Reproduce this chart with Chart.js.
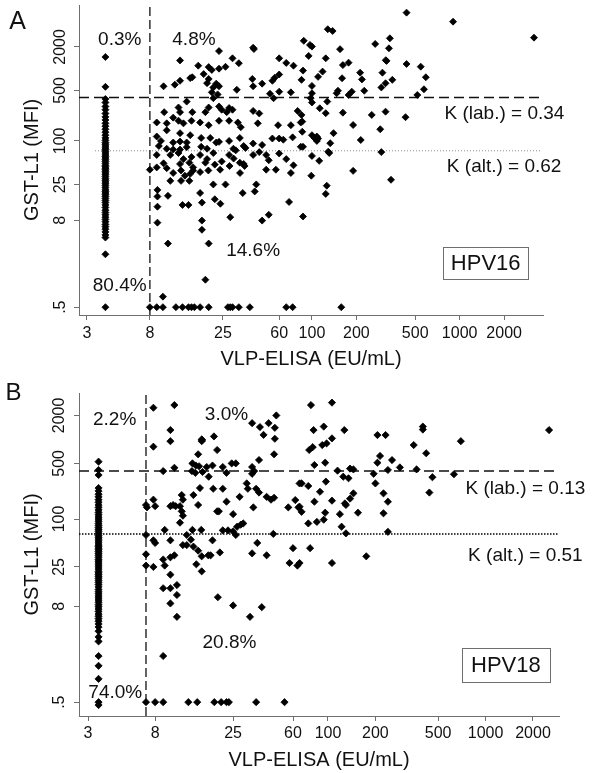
<!DOCTYPE html>
<html lang="en">
<head>
<meta charset="utf-8" />
<title>GST-L1 vs VLP-ELISA</title>
<script src="https://cdn.jsdelivr.net/npm/chart.js@4/dist/chart.umd.min.js"></script>
<style>
  body { margin: 0; background: #fff; }
  canvas { display: block; }
</style>
</head>
<body>
<canvas id="chartA" width="600" height="380"></canvas>
<canvas id="chartB" width="600" height="393"></canvas>
<script>
// tick values, same on both panels
const xTicks = [3, 8, 25, 60, 100, 200, 500, 1000, 2000];
const yTicks = [0.5, 8, 25, 100, 500, 2000];

// ---- HPV16 ----
// ELISA-negative sera all sit in one column
const hpv16NegX = 4;
const hpv16NegY = [1450, 560, 380, 340, 300, 270, 240, 215, 195, 175, 160, 145, 132, 120, 110, 102, 95, 90, 85, 80,
  76, 72, 68, 64, 61, 58, 55, 52, 49, 46, 44, 42, 40, 38, 36, 34, 32, 30, 28.5, 27, 25.5, 24, 22.5, 21, 20, 19,
  18, 17, 16, 15, 14, 13, 12, 11, 10.2, 9.5, 8.8, 8.2, 7.6, 7, 6.5, 6, 5.5, 5, 4.6, 2.7, 0.5];
// [ELISA EU/mL, GST-L1 MFI]
const hpv16Pos = [
  [23.5,1750],[40,1950],[40.5,1870],[12.8,1300],[29,1390],[32,1190],[60,1390],[67,1200],[75,1100],
  [17,1100],[20,1050],[21,960],[23.5,1000],[26,1060],[15.5,760],[18.5,840],[20,720],[22.5,620],[23.5,570],
  [9.9,570],[11.8,600],[12.8,680],[15,740],[39.5,720],[40,570],[46,620],[54,680],[60,830],[56,750],
  [19.5,630],[21.5,550],[21,470],[23,440],[31,510],[21.5,390],[52,450],[60,480],[72,470],[55,390],
  [14.2,350],[23.5,300],[24.5,270],[27.5,285],[29,270],[20,290],[26.5,250],[12.5,290],[12.8,250],[15.5,250],
  [19,250],[40,260],[44,240],[80,260],[10,250],
  [8.9,180],[10.4,175],[11.5,210],[12.5,190],[13.5,175],[15.3,190],[17.5,180],[20,165],[23.5,190],[27.5,190],
  [31.5,180],[33,155],[43,175],[59,165],[72,165],[12.8,128],[15,120],[10.4,140],
  [8.9,115],[9.5,100],[11.5,95],[12.8,98],[14.2,95],[17.8,110],[20.5,110],[22.5,95],[23.5,97],[27.5,100],
  [32.5,110],[34.5,85],[40,92],[46,88],[54,108],[60,108],[64,104],[74,112],[17.8,83],[19.5,78],[11.5,76],
  [12.8,76],[14.2,82],[9.2,85],[10.4,78],[29.4,78],[30.5,74],[35.5,80],
  [8.9,64],[9.9,49],[11,64],[12.5,68],[13.5,56],[15.3,60],[17.5,64],[19.5,56],[21.5,68],[27.5,64],[29.5,57],
  [32.5,50],[35,45],[40,64],[44,70],[49,64],[51,54],[60,67],[67,56],[75,46],[12.8,48],[14.8,50],[15.7,43],
  [19,50],[22,47],[24.5,52],
  [8,40],[8.9,43],[10.4,42],[11.5,36],[13,39],[13.8,33],[15,35],[15.7,39],[17.5,37],[19.9,39],[23.9,40],
  [27.7,45],[32.6,36],[34.5,48],[49,40],[57,40],[72,36],[11,28],[13,28],[14.8,28],[21.5,25],[26,25],[42,25],
  [9,21],[9,17],[9,12.3],[9,7.4],[10.6,17.4],[13.3,13],[14.6,13],[17.5,19],[18,14],[22,15.6],[24,13.5],
  [34,19],[41,20],[70,14.3],[28,8.8],[46,7.9],[51,9.5],[18,7.9],[18,5.9],[10.6,3.8],[20,3.8],[19,1.2],[9.8,0.7],
  [437,5960],[902,4470],[3185,2685],[128,3510],[138,3320],[88,2430],[97,2130],[100,2020],[95,1500],[155,1860],
  [124,1390],[268,2200],[337,2630],[332,1910],[316,1310],[320,1280],[437,1160],[545,1065],[590,760],[573,518],
  [517,432],[162,1120],[177,1210],[118,910],[110,770],[87,940],[85,700],[160,736],[212,880],[218,710],
  [300,880],[295,550],[315,628],[350,700],[226,495],[186,480],[177,432],[147,457],[150,495],[100,577],
  [100,457],[98,390],[100,340],[127,350],[113,283],[124,242],[85,229],[86,185],[162,246],[254,229],
  [315,254],[430,213],[190,166],[290,145],[84,180],[86,134],[100,120],[104,110],[108,115],[110,108],
  [108,100],[140,128],[133,93],[129,71],[131,68],[214,103],[84,83],[87,83],[100,62],[112,53],[295,70],
  [99,33],[190,38.5],[126,24],[343,29],[124,18.5],[87,9],[158,0.5],
  [8,0.5],[8.9,0.5],[9.8,0.5],[12,0.5],[13.3,0.5],[14.6,0.5],[15.3,0.5],[16,0.5],[17.5,0.5],[20,0.5],
  [27,0.5],[28,0.5],[29,0.5],[32,0.5],[38,0.5],[67,0.5],[74,0.5]
];
const hpv16Cuts = [8, 400, 73]; // ELISA cut-off, lab. cut-off, alt. cut-off
const hpv16Pct = ['0.3%', '4.8%', '14.6%', '80.4%'];
const hpv16Kappa = ['K (lab.) = 0.34', 'K (alt.) = 0.62'];

// ---- HPV18 ----
const hpv18NegX = 3.5;
const hpv18NegY = [525, 413, 357, 245, 225, 205, 190, 175, 162, 150, 140, 130, 121, 113, 106, 100, 94, 88, 83, 78,
  74, 70, 66, 62, 59, 56, 53, 50, 47, 45, 43, 41, 39, 37, 35, 33, 31, 29.5, 28, 26.5, 25, 23.5, 22, 21, 20, 19,
  18, 17, 16, 15, 14, 13, 12.2, 11.5, 10.8, 10.2, 9.6, 9, 8.4, 7.9, 7.4, 6.9, 6.4, 6, 5.6, 5.2, 4.8, 4.4, 3.9,
  3.3, 2.9, 1.9, 1.43, 0.98, 0.5, 0.46];
const hpv18Pos = [
  [7.8,2500],[10.6,2700],[7.8,810],[10,1312],[10,950],[10.6,440],[9,400],[15.8,1000],[15.9,980],[15.8,950],
  [18.9,1090],[19.8,736],[15,650],[13.8,500],[14.5,470],[15.2,460],[17,450],[21.5,450],[24.5,500],[26,500],
  [33,1600],[37,1430],[42,1600],[46,1400],[46,1020],[47,2000],[39,1140],[45.5,650],[36.5,551],[33,450],
  [34,400],[33,370],[13.7,400],[14.4,380],[16,390],[17.5,340],[18.5,470],[22.7,380],[30.5,280],[31,240],
  [35,240],[36.5,215],[33.6,140],[40.8,190],[43.5,175],[45.5,185],[18.7,240],[21.5,240],[15.4,245],[14,200],
  [11.8,200],[12,175],[11.5,145],[10.4,150],[10.8,145],[11.8,125],[12,110],[11.5,90],[7.8,175],[8,145],
  [7,150],[7.1,140],[10,145],[15,150],[22.7,165],[27.5,190],[19.8,125],[20.3,125],[25,115],[26.5,80],
  [28,85],[29,88],[25,70],[26,63],[23.2,72],[21.5,72],[18.5,54],[15.7,73],[13.8,73],[12.7,63],[12.7,47],
  [13.5,55],[12,47],[9.2,73],[7.8,54],[8,50],[10,54],[7,63],[7,36],[7,26],[7.8,25],[9,31],[9.2,26],[10,33],
  [10,20],[10.6,35],[14,45],[15,40],[15.8,34],[17.4,35],[18,35],[20.6,38],[14.6,27],[15.8,22],[33,37],
  [40.8,35],[45,65],[35.6,50],[60,43],[56,140],[62,173],[65,140],[57,28],[64,26],
  [78,2700],[106,2900],[81,1310],[94,1450],[127,1310],[106,1030],[76,736],[80,800],[92,850],[98,890],
  [82,477],[96,510],[206,1135],[232,1135],[400,1450],[400,1330],[697,950],[2530,1310],[350,850],[420,670],
  [214,620],[255,550],[206,510],[240,413],[286,445],[365,420],[460,335],[630,365],[440,215],[195,370],
  [200,280],[225,210],[240,165],[225,118],[115,405],[125,340],[135,325],[138,430],[145,420],[66,280],
  [68,280],[75,260],[97,295],[89,220],[82,165],[145,210],[138,180],[128,157],[119,115],[106,170],[130,150],
  [66,143],[68,123],[155,120],[75,88],[85,92],[94,98],[96,120],[122,80],[130,66],[240,69],[77,43],[66,28],
  [106,28],[175,34],
  [9,13.5],[10,13.5],[11,14.8],[11,11.1],[10,8.7],[11,5.9],[20,10.4],[25,8.2],[32,5.9],[38,7.8],[9,1.9],
  [7,0.5],[8,0.5],[9,0.5],[13,0.5],[14.8,0.5],[19,0.5],[21,0.5],[22.7,0.5],[23.5,0.5],[35,0.5],[53,0.5]
];
const hpv18Cuts = [7, 400, 65];
const hpv18Pct = ['2.2%', '3.0%', '20.8%', '74.0%'];
const hpv18Kappa = ['K (lab.) = 0.13', 'K (alt.) = 0.51'];

const FONT = 'Arial, "Liberation Sans", sans-serif';
const INK = '#111';
const AXIS = '#6e6e6e';

function makePanel(id, p) {
  const pts = p.neg.map(y => ({x: p.negX, y: y}))
    .concat(p.pos.map(d => ({x: d[0], y: d[1]})));
  const [xMin, xMax] = p.xRange;
  const [yMin, yMax] = p.yRange;
  const [eCut, labCut, altCut] = p.cuts;

  const line = (data, color, dash, width) => ({
    data: data, showLine: true, pointRadius: 0, fill: false,
    borderColor: color, borderDash: dash, borderWidth: width
  });

  const notes = {
    id: 'notes',
    afterDatasetsDraw(chart) {
      const ctx = chart.ctx;
      const xs = chart.scales.x, ys = chart.scales.y;
      ctx.save();
      ctx.fillStyle = INK;
      // rotated y tick labels
      ctx.font = '16px ' + FONT;
      ctx.textAlign = 'center';
      ctx.textBaseline = 'middle';
      yTicks.forEach(v => {
        ctx.save();
        ctx.translate(p.yLabelX, ys.getPixelForValue(v));
        ctx.rotate(-Math.PI / 2);
        ctx.fillText(v < 1 ? String(v).replace(/^0/, '') : String(v), 0, 0);
        ctx.restore();
      });
      // quadrant percentages and kappas
      ctx.font = '19px ' + FONT;
      p.pct.forEach((t, i) => {
        ctx.fillText(t, xs.getPixelForValue(p.pctAt[i][0]), ys.getPixelForValue(p.pctAt[i][1]));
      });
      p.kappa.forEach((t, i) => {
        ctx.fillText(t, xs.getPixelForValue(p.kappaAt[i][0]), ys.getPixelForValue(p.kappaAt[i][1]));
      });
      // type box
      const bx = xs.getPixelForValue(p.boxAt[0]), by = ys.getPixelForValue(p.boxAt[1]);
      ctx.strokeStyle = AXIS;
      ctx.lineWidth = 1;
      ctx.strokeRect(Math.round(bx - p.boxSize[0] / 2) + 0.5, Math.round(by - p.boxSize[1] / 2) + 0.5, p.boxSize[0], p.boxSize[1]);
      ctx.font = '22px ' + FONT;
      ctx.fillText(p.type, bx, by + 1);
      // panel letter
      ctx.font = p.letterSize + 'px ' + FONT;
      ctx.fillText(p.letter, p.letterPos[0], p.letterPos[1]);
      ctx.restore();
    }
  };

  return new Chart(document.getElementById(id), {
    type: 'scatter',
    data: {
      datasets: [
        {
          data: pts, pointStyle: 'rectRot', pointRadius: p.r, borderWidth: 0.8,
          backgroundColor: '#000', borderColor: '#000'
        },
        line([{x: eCut, y: yMin}, {x: eCut, y: yMax}], '#222', [9, 4], 1.4),
        line([{x: xMin, y: labCut}, {x: p.hEnd, y: labCut}], '#111', [10, 5], 1.5),
        line([{x: p.dotStart, y: altCut}, {x: p.dotEnd, y: altCut}], p.dotColor, p.dotDash, p.dotWidth)
      ]
    },
    options: {
      responsive: false,
      animation: false,
      events: [],
      layout: { padding: { top: p.padTop, right: p.padRight, left: 0, bottom: 0 } },
      plugins: { legend: { display: false }, tooltip: { enabled: false } },
      scales: {
        x: {
          type: 'logarithmic', min: xMin, max: xMax, bounds: 'data',
          afterBuildTicks: s => { s.ticks = xTicks.map(v => ({value: v})); },
          afterFit: s => { s.height = p.xAxisH; },
          border: { color: AXIS, width: 1 },
          grid: { drawOnChartArea: false, color: AXIS, tickLength: 5 },
          ticks: {
            autoSkip: false, maxRotation: 0, padding: p.tickPad, color: INK,
            font: { family: FONT, size: 16 }, callback: v => String(v)
          },
          title: {
            display: true, text: 'VLP-ELISA (EU/mL)', color: INK,
            font: { family: FONT, size: 20 }, padding: { top: 0, bottom: p.titlePad }
          }
        },
        y: {
          type: 'logarithmic', min: yMin, max: yMax, bounds: 'data',
          afterBuildTicks: s => { s.ticks = yTicks.map(v => ({value: v})); },
          afterFit: s => { s.width = 79; },
          border: { color: AXIS, width: 1 },
          grid: { drawOnChartArea: false, color: AXIS, tickLength: 5 },
          ticks: { display: false },
          title: {
            display: true, text: 'GST-L1 (MFI)', color: INK,
            font: { family: FONT, size: 20 }, padding: { top: 20, bottom: 0 }
          }
        }
      }
    },
    plugins: [notes]
  });
}

makePanel('chartA', {
  neg: hpv16NegY, negX: hpv16NegX, pos: hpv16Pos, cuts: hpv16Cuts,
  pct: hpv16Pct, kappa: hpv16Kappa, type: 'HPV16', letter: 'A',
  xRange: [2.65, 3665], yRange: [0.39, 7600],
  padTop: 5, padRight: 57, xAxisH: 65, tickPad: 4, titlePad: 9, yLabelX: 61,
  hEnd: 3445, dotStart: 3.4, dotEnd: 3600, dotColor: '#8c8c8c', dotDash: [1, 2], dotWidth: 1,
  pctAt: [[5, 2500], [15.9, 2500], [40, 3.0], [5, 0.99]],
  kappaAt: [[2010, 236], [2000, 43.7]],
  boxAt: [1500, 2.06], boxSize: [85, 32],
  letterPos: [17.5, 22], letterSize: 25, r: 3.5
});

makePanel('chartB', {
  neg: hpv18NegY, negX: hpv18NegX, pos: hpv18Pos, cuts: hpv18Cuts,
  pct: hpv18Pct, kappa: hpv18Kappa, type: 'HPV18', letter: 'B',
  xRange: [2.63, 2925], yRange: [0.335, 3830],
  padTop: 13, padRight: 41, xAxisH: 57, tickPad: 3.4, titlePad: 1, yLabelX: 60,
  hEnd: 2755, dotStart: 2.63, dotEnd: 2900, dotColor: '#000', dotDash: [1.5, 1.5], dotWidth: 1.5,
  pctAt: [[4.43, 1754], [22.7, 2055], [23.7, 2.81], [4.47, 0.66]],
  kappaAt: [[1790, 238], [1790, 34.8]],
  boxAt: [1346, 1.47], boxSize: [88, 34],
  letterPos: [13.5, 13], letterSize: 24, r: 3.6
});
</script>
</body>
</html>
